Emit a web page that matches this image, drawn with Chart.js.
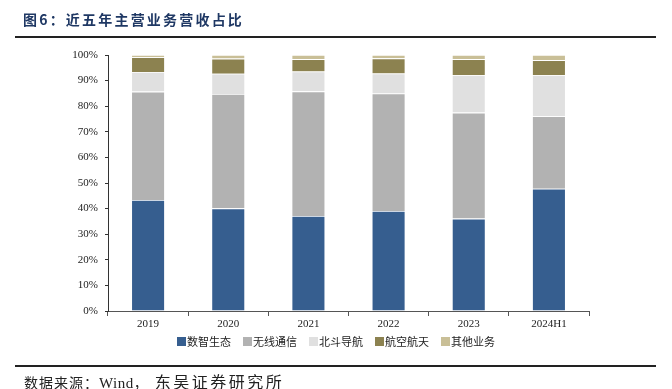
<!DOCTYPE html>
<html>
<head>
<meta charset="utf-8">
<script src="https://cdn.jsdelivr.net/npm/chart.js@4"></script>
<style>
  html, body { margin: 0; padding: 0; background: #fff; }
  #wrap { position: relative; width: 672px; height: 389px; overflow: hidden; }
  #title { position: absolute; left: 23px; top: 9px; font: bold 14px "Noto Sans CJK SC", sans-serif; letter-spacing: 2.2px; color: #1f3864; white-space: nowrap; }
  #titleLine { position: absolute; left: 15px; top: 36px; width: 641px; height: 2px; background: #222; }
  #srcLine { position: absolute; left: 15px; top: 365px; width: 641px; height: 2px; background: #222; }
  #source { position: absolute; left: 24px; top: 369px; font: 14px "Noto Sans CJK SC", sans-serif; letter-spacing: 1px; color: #222; white-space: nowrap; }
  #source .en { font-family: "Liberation Serif", serif; font-size: 15px; letter-spacing: 0.5px; }
  #source .org { font-size: 16px; letter-spacing: 2.5px; margin-left: 6px; }
  #legend { position: absolute; left: 177px; top: 333px; display: flex; align-items: center; font: 11px "Noto Sans CJK SC", sans-serif; color: #222; white-space: nowrap; }
  #legend .item { display: flex; align-items: center; margin-right: 12px; }
  #legend .box { width: 9px; height: 9px; margin-right: 1px; }
  canvas { position: absolute; left: 0; top: 0; }
</style>
</head>
<body>
<div id="wrap">
  <canvas id="chart" width="672" height="389"></canvas>
  <div id="title">图6：近五年主营业务营收占比</div>
  <div id="titleLine"></div>
  <div id="legend"></div>
  <div id="srcLine"></div>
  <div id="source">数据来源：<span class="en">Wind</span>，<span class="org">东吴证券研究所</span></div>
</div>
<script>
// categories and series (share of revenue, %)
const years = ["2019", "2020", "2021", "2022", "2023", "2024H1"];
const digital   = [43.4, 40.1, 37.1, 39.1, 36.1, 47.8];   // 数智生态
const wireless  = [42.3, 44.7, 48.7, 45.9, 41.4, 28.3];   // 无线通信
const beidou    = [7.7, 7.9, 7.8, 7.8, 14.6, 16.0];       // 北斗导航
const aerospace = [5.7, 5.9, 4.8, 5.9, 6.3, 5.9];         // 航空航天
const others    = [0.9, 1.4, 1.6, 1.3, 1.6, 2.0];         // 其他业务
const yTicks = [0, 10, 20, 30, 40, 50, 60, 70, 80, 90, 100];

const seriesNames = ["数智生态", "无线通信", "北斗导航", "航空航天", "其他业务"];
const seriesData = [digital, wireless, beidou, aerospace, others];
const seriesColors = ["#365e8f", "#b2b2b2", "#e0e0e0", "#8c8250", "#c9bf97"];

const serif = "'Liberation Serif', 'Times New Roman', serif";

// html legend, same order as the datasets
const legendEl = document.getElementById("legend");
seriesNames.forEach((name, i) => {
    const item = document.createElement("div");
    item.className = "item";
    item.innerHTML = `<span class="box" style="background:${seriesColors[i]}"></span><span>${name}</span>`;
    legendEl.appendChild(item);
});

new Chart(document.getElementById("chart"), {
    type: "bar",
    data: {
        labels: years,
        datasets: seriesNames.map((name, i) => ({
            label: name,
            data: seriesData[i],
            backgroundColor: seriesColors[i],
            borderColor: "rgba(255,255,255,0.55)",
            borderWidth: 0.8,
            barPercentage: 0.42,
            categoryPercentage: 1
        }))
    },
    options: {
        responsive: false,
        animation: false,
        layout: { padding: { left: 0, right: 83, top: 55, bottom: 62 } },
        scales: {
            x: {
                stacked: true,
                offset: true,
                border: { display: true, color: "#555", width: 1 },
                grid: { offset: true, drawOnChartArea: false, drawTicks: true, tickLength: 5, color: "#555" },
                ticks: { color: "#222", font: { family: serif, size: 11 }, padding: 2 },
                afterFit: s => { s.height = 16; }
            },
            y: {
                stacked: true,
                min: 0,
                max: 100,
                afterBuildTicks: s => { s.ticks = yTicks.map(v => ({ value: v })); },
                border: { display: true, color: "#333", width: 1 },
                grid: { drawOnChartArea: false, drawTicks: true, tickLength: 3, color: "#333" },
                ticks: { color: "#222", font: { family: serif, size: 11 }, padding: 7, callback: v => v + "%" },
                afterFit: s => { s.width = 108; }
            }
        },
        plugins: {
            legend: { display: false },
            tooltip: { enabled: false }
        }
    }
});
</script>
</body>
</html>
